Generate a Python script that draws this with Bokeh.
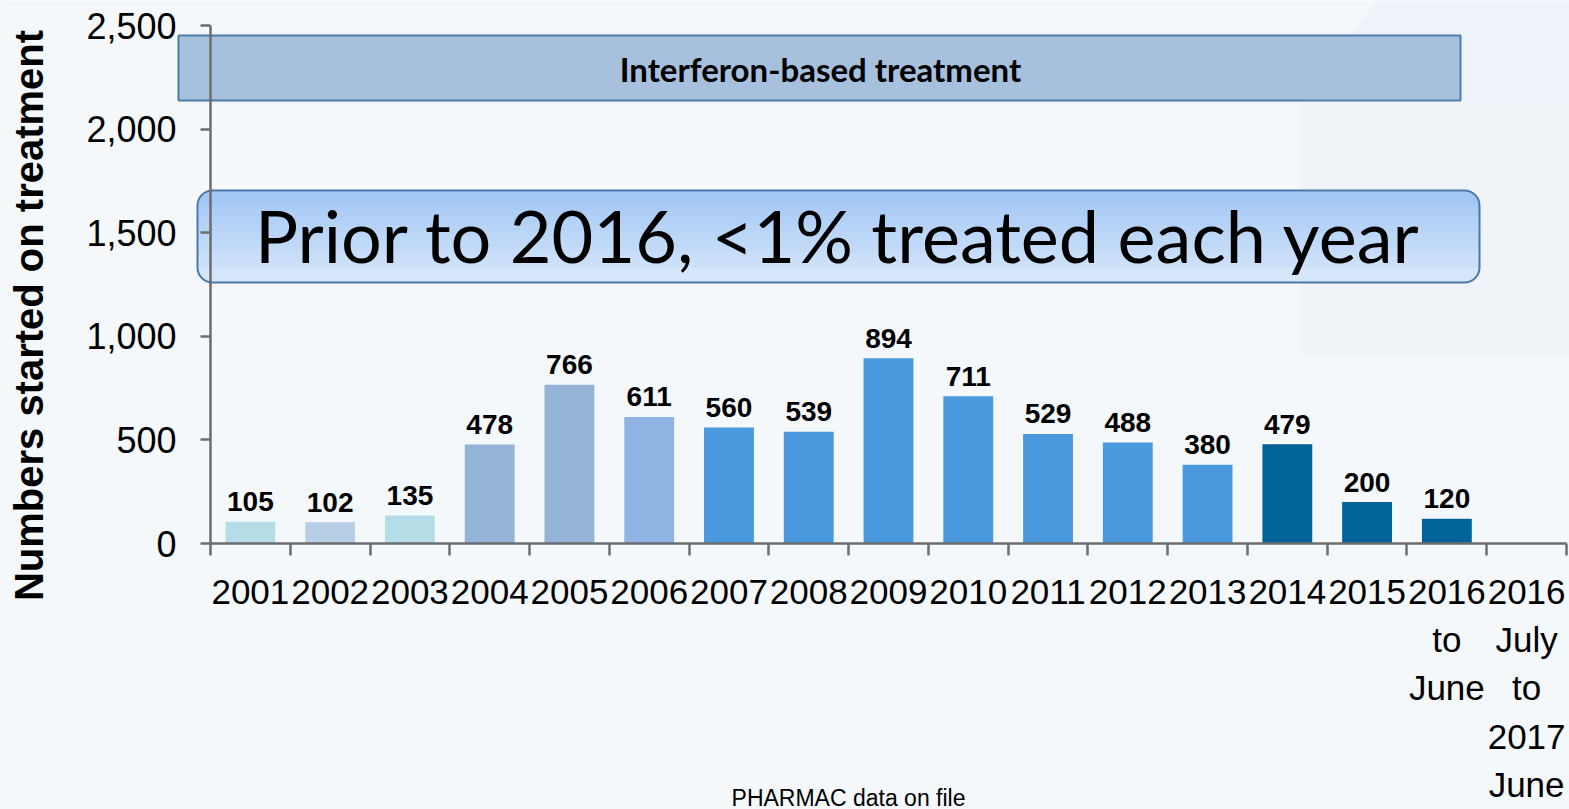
import math
from bokeh.plotting import figure
from bokeh.models import (Range1d, FixedTicker, NumeralTickFormatter, LinearAxis,
                          BoxAnnotation, Label, PolyAnnotation, ColumnDataSource)
from bokeh.core.properties import value
from bokeh.embed import file_html
from bokeh.resources import INLINE

# ---------------- data ----------------
categories = ["2001", "2002", "2003", "2004", "2005", "2006", "2007", "2008", "2009",
              "2010", "2011", "2012", "2013", "2014", "2015", "2016\nto\nJune",
              "2016\nJuly\nto\n2017\nJune"]
values = [105, 102, 135, 478, 766, 611, 560, 539, 894, 711, 529, 488, 380, 479, 200, 120, None]
bar_colors = ["#b4dde7", "#b8cde6", "#b4dde7", "#95b3d7", "#95b3d7", "#8fb4e3",
              "#4a98dd", "#4a98dd", "#4a98dd", "#4a98dd", "#4a98dd", "#4a98dd", "#4a98dd",
              "#006498", "#006498", "#006498", "#006498"]
y_ticks = [0, 500, 1000, 1500, 2000, 2500]
y_label = "Numbers started on treatment"
banner_text = "Interferon-based treatment"
callout_text = "Prior to 2016, <1% treated each year"
source_text = "PHARMAC data on file"

BG = "#f4f8fb"
SANS = "Liberation Sans"
W, H = 1569, 809

n = len(categories)
centers = [i + 0.5 for i in range(n)]
bounds = [float(i) for i in range(n + 1)]
YMAX = 2500

# plot area of the chart inside the canvas (pixels)
FL, FR, FT, FB = 210, 1566, 25, 543
PX_X = (FR - FL) / n
PX_Y = (FB - FT) / YMAX
def dx(sx):
    return (sx - FL) / PX_X
def dy(sy):
    return (FB - sy) / PX_Y

p = figure(width=W, height=H, x_range=Range1d(dx(0), dx(W)), y_range=Range1d(dy(H), dy(0)),
           output_backend="svg", toolbar_location=None,
           x_axis_type=None, y_axis_type=None,
           min_border_left=0, min_border_right=0, min_border_top=0, min_border_bottom=0,
           background_fill_color=BG, border_fill_color=BG, outline_line_color=None)

# faint background decoration on the right
p.add_layout(PolyAnnotation(xs=[dx(1377), dx(W), dx(W), dx(1300)],
                            ys=[dy(0), dy(0), dy(100), dy(100)],
                            fill_color="#eef2f9", fill_alpha=1, line_color=None, level="underlay"))
p.add_layout(PolyAnnotation(xs=[dx(1300), dx(W), dx(W), dx(1300)],
                            ys=[dy(100), dy(100), dy(355), dy(355)],
                            fill_color="#f0f3f7", fill_alpha=1, line_color=None, level="underlay"))

# bars
bx = [centers[i] for i in range(n) if values[i] is not None]
bt = [values[i] for i in range(n) if values[i] is not None]
bc = [bar_colors[i] for i in range(n) if values[i] is not None]
src = ColumnDataSource(dict(x=bx, top=bt, color=bc, label=[str(v) for v in bt]))
p.vbar(x="x", top="top", width=0.625, bottom=0, fill_color="color", line_color=None, source=src)
p.text(x="x", y="top", text="label", source=src, y_offset=-20,
       text_font=value(SANS), text_font_style="bold", text_font_size="28px",
       text_align="center", text_baseline="alphabetic", text_color="#000000")

# axes (drawn at fixed locations inside the canvas)
AX = "#6d6d6d"
xaxis = LinearAxis(ticker=FixedTicker(ticks=centers, minor_ticks=bounds),
                   major_label_overrides={c: lab for c, lab in zip(centers, categories)},
                   fixed_location=0, bounds=(0, n))
xaxis.axis_line_color = AX
xaxis.axis_line_width = 2.5
xaxis.major_tick_out = 0
xaxis.major_tick_in = 0
xaxis.minor_tick_out = 12
xaxis.minor_tick_in = 0
xaxis.minor_tick_line_color = AX
xaxis.minor_tick_line_width = 2.5
xaxis.major_label_text_font = SANS
xaxis.major_label_text_font_size = "35px"
xaxis.major_label_text_color = "#000000"
xaxis.major_label_text_line_height = 1.24
xaxis.major_label_standoff = 16
p.add_layout(xaxis, "below")

yaxis = LinearAxis(ticker=FixedTicker(ticks=y_ticks), formatter=NumeralTickFormatter(format="0,0"),
                   fixed_location=0, bounds=(0, YMAX))
yaxis.axis_line_color = AX
yaxis.axis_line_width = 2.5
yaxis.major_tick_out = 10
yaxis.major_tick_in = 0
yaxis.major_tick_line_color = AX
yaxis.major_tick_line_width = 2.5
yaxis.minor_tick_out = 0
yaxis.minor_tick_in = 0
yaxis.major_label_text_font = SANS
yaxis.major_label_text_font_size = "36px"
yaxis.major_label_text_color = "#000000"
yaxis.major_label_standoff = 24
p.add_layout(yaxis, "left")

# banner box
p.add_layout(BoxAnnotation(left=dx(178), right=dx(1460), top=dy(35), bottom=dy(100),
                           fill_color="#a2bddb", fill_alpha=0.95, line_color="#4f7dab",
                           line_alpha=1, line_width=2, level="underlay"))
p.add_layout(Label(x=dx(820), y=dy(68), text=banner_text, text_font="Lato",
                   text_font_style="bold", text_font_size="33px", text_color="#000000",
                   text_align="center", text_baseline="alphabetic"))

# callout rounded box with vertical gradient
L, R, T, B = dx(197), dx(1479), 190, 282
top_c = (0xa0, 0xc6, 0xf5)
bot_c = (0xd8, 0xe7, 0xfa)
def mix(t):
    return "#%02x%02x%02x" % tuple(int(round(a + (b - a) * t)) for a, b in zip(top_c, bot_c))
rad = 15
p.add_layout(BoxAnnotation(left=L, right=R, top=dy(T), bottom=dy(T + rad + 1),
                           fill_color=mix(0.05), fill_alpha=1, line_color=None,
                           border_radius=(rad, rad, 0, 0), level="underlay"))
p.add_layout(BoxAnnotation(left=L, right=R, top=dy(B - rad - 1), bottom=dy(B),
                           fill_color=mix(0.95), fill_alpha=1, line_color=None,
                           border_radius=(0, 0, rad, rad), level="underlay"))
steps = 12
y0, y1 = T + rad, B - rad
for k in range(steps):
    a = y0 + (y1 - y0) * k / steps
    b = y0 + (y1 - y0) * (k + 1) / steps + 0.6
    t = (a - T + (b - a) / 2) / (B - T)
    p.add_layout(BoxAnnotation(left=L, right=R, top=dy(a), bottom=dy(b),
                               fill_color=mix(t), fill_alpha=1, line_color=None,
                               level="underlay"))
p.add_layout(BoxAnnotation(left=L, right=R, top=dy(T), bottom=dy(B),
                           fill_alpha=0, line_color="#4a78a8", line_alpha=1, line_width=2,
                           border_radius=rad, level="underlay"))
p.add_layout(Label(x=dx(838), y=dy(234), text=callout_text, text_font="Lato",
                   text_font_size="72px", text_color="#000000",
                   text_align="center", text_baseline="alphabetic"))

# y axis title
p.add_layout(Label(x=dx(28), y=dy(315), text=y_label, text_font=SANS,
                   text_font_style="bold", text_font_size="40px", text_color="#000000",
                   angle=math.pi / 2, text_align="center", text_baseline="middle"))

# source note
p.add_layout(Label(x=dx(848), y=dy(797), text=source_text, text_font=SANS,
                   text_font_size="23px", text_color="#000000",
                   text_align="center", text_baseline="alphabetic"))

open("out.html", "w").write(file_html(p, INLINE))
